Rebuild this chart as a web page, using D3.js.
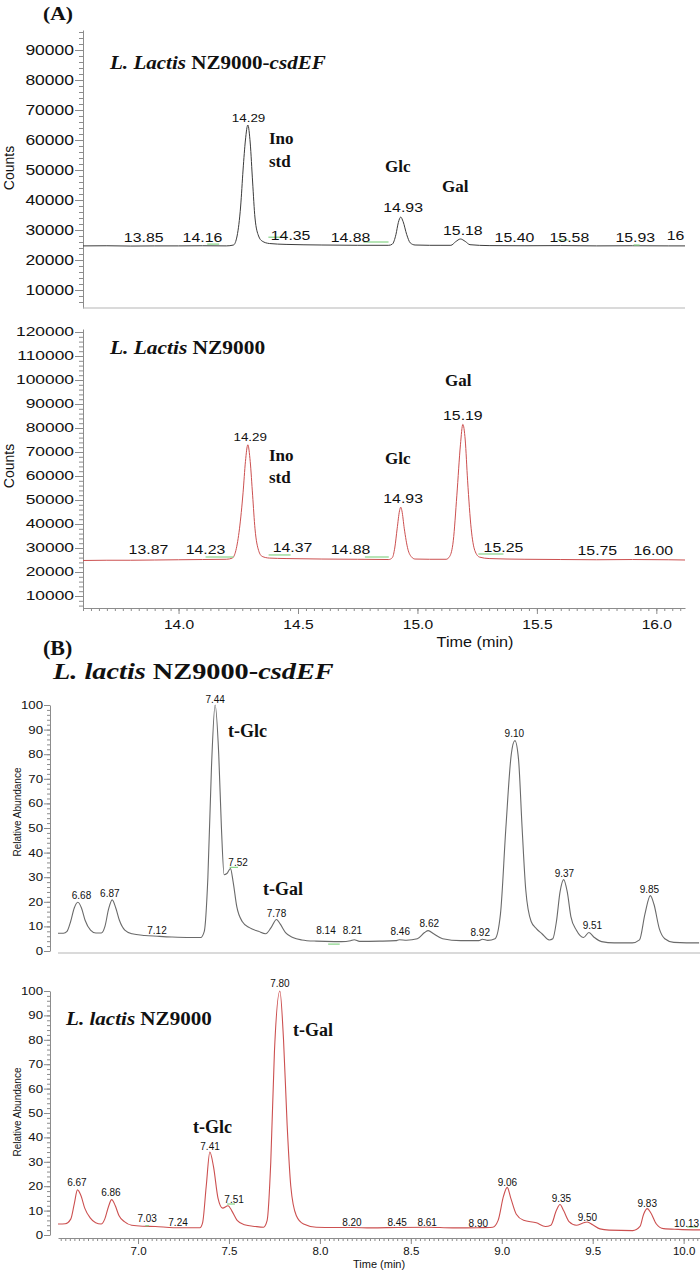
<!DOCTYPE html>
<html><head><meta charset="utf-8">
<script src="https://cdn.jsdelivr.net/npm/d3@7"></script>
<style>body{margin:0;background:#fff}</style>
</head><body><svg id="c" width="700" height="1271"></svg>
<script>
// ---------------- DATA ----------------
// Panel A (GC), top: L. Lactis NZ9000-csdEF  (time min, counts)
const aTopTime = [13.60,13.70,13.80,13.90,14.00,14.10,14.20,14.23,14.245,14.26,14.27,14.28,14.29,14.30,14.31,14.32,14.335,14.35,14.38,14.45,14.60,14.75,14.88,14.895,14.91,14.92,14.93,14.94,14.955,14.97,14.99,15.05,15.14,15.16,15.18,15.20,15.22,15.30,15.45,15.60,15.75,15.90,16.05,16.12];
const aTopCounts = [24700,24750,24650,24700,24700,24750,24700,25000,28000,38000,50000,60000,65000,59000,46000,34000,28000,26300,25500,25200,25000,24900,24900,25300,28500,32500,34300,32800,28500,25700,25000,24900,24900,26100,27000,26200,25100,24800,24750,24800,24700,24750,24700,24700];
const aTopLabelText  = ["13.85","14.16","14.29","14.35","14.88","14.93","15.18","15.40","15.58","15.93","16"];
const aTopLabelTime  = [13.854,14.10,14.293,14.469,14.72,14.94,15.19,15.406,15.636,15.912,16.08];
const aTopLabelLevel = [26000,26000,66000,26700,26000,36000,28300,26000,26000,26000,26700];
const aTopGreen = [[14.12,14.17,25300],[14.376,14.456,27600],[14.774,14.879,26000],[15.586,15.632,26700],[15.905,15.93,25000]];

// Panel A, bottom: L. Lactis NZ9000
const aBotTime = [13.60,13.70,13.80,13.90,14.00,14.10,14.20,14.225,14.24,14.255,14.27,14.28,14.29,14.30,14.31,14.32,14.335,14.35,14.38,14.45,14.60,14.75,14.88,14.895,14.905,14.915,14.925,14.93,14.935,14.945,14.96,14.975,14.99,15.05,15.12,15.135,15.15,15.165,15.18,15.19,15.20,15.21,15.225,15.24,15.26,15.30,15.45,15.60,15.75,15.90,16.05,16.12];
const aBotCounts = [24800,24900,24900,25000,25100,25200,25300,25800,29000,38000,53000,66000,73000,66000,52000,38000,29000,26500,25800,25600,25400,25300,25200,26000,30000,38000,45500,47000,45500,38000,29500,26300,25400,25300,25300,26500,33000,52000,73000,81500,75000,58000,38000,29000,26200,25600,25300,25200,25100,25200,25100,25000];
const aBotLabelText  = ["13.87","14.23","14.29","14.37","14.88","14.93","15.19","15.25","15.75","16.00"];
const aBotLabelTime  = [13.874,14.113,14.30,14.477,14.72,14.94,15.19,15.36,15.753,15.987];
const aBotLabelLevel = [27500,27500,74600,28300,27500,48750,83300,28300,27100,27100];
const aBotGreen = [[14.113,14.23,26250],[14.377,14.469,27100],[14.78,14.88,26250],[15.255,15.36,27500]];

const aYMajor = d3.range(10000, 90001, 10000);
const aBotYMajor = d3.range(10000, 120001, 10000);
const aXMajor = [14.0, 14.5, 15.0, 15.5, 16.0];

// Panel B (GC-MS), top: L. lactis NZ9000-csdEF (time min, relative abundance %)
const bTopTime = [6.57,6.60,6.62,6.64,6.66,6.68,6.70,6.72,6.75,6.78,
  6.81,6.83,6.85,6.87,6.89,6.91,6.94,6.98,7.05,7.12,
  7.20,7.30,7.36,7.38,7.40,7.42,7.44,7.46,7.475,7.49,
  7.505,7.525,7.54,7.56,7.59,7.63,7.68,7.72,7.75,7.78,
  7.80,7.83,7.87,7.92,8.00,8.10,8.14,8.19,8.21,8.24,
  8.35,8.44,8.46,8.50,8.56,8.60,8.62,8.65,8.70,8.80,
  8.90,8.92,8.95,8.99,9.02,9.05,9.08,9.10,9.12,9.14,
  9.16,9.19,9.22,9.25,9.29,9.31,9.33,9.35,9.37,9.39,
  9.41,9.44,9.48,9.51,9.54,9.58,9.65,9.75,9.79,9.82,
  9.85,9.87,9.90,9.93,9.98,10.05,10.12];
const bTopAbund = [7.2,7.2,8.0,12.0,17.5,19.8,17.5,12.5,8.5,7.3,
  7.3,10.0,17.0,20.8,17.5,12.5,8.5,7.0,6.3,6.0,
  5.7,5.5,5.5,8.0,30,75,100,80,50,31,
  31.5,33.5,28,18,12,9.5,8,7,9.5,12.8,
  11,7.5,5.5,4.5,4.0,3.8,3.8,4.2,4.6,3.9,
  4.0,4.2,4.6,4.4,5.0,7.5,8.3,7.0,5.0,4.2,
  4.2,4.8,4.3,5.0,15,50,80,85.5,78,50,
  25,12,9,7,4.5,5,12,24,29,24,
  14,8.5,5.5,7.5,5.5,3.8,3.3,3.3,4.5,15,
  22.5,19,9,5,3.5,3.3,3.3];
const bTopLabelText  = ["6.68","6.87","7.12","7.44","7.52","7.78","8.14","8.21","8.46","8.62","8.92","9.10","9.37","9.51","9.85"];
const bTopLabelTime  = [6.70,6.857,7.118,7.44,7.567,7.78,8.054,8.20,8.465,8.626,8.908,9.097,9.374,9.529,9.845];
const bTopLabelLevel = [21,22,7,100.8,34.5,13.8,7,7,6.5,9.8,6,87,30,9,23.6];
const bTopGreen = [[7.52,7.567,34],[8.066,8.13,2.8]];

// Panel B, bottom: L. lactis NZ9000 (times as drawn on the picture's axis)
const bBotTime = [6.56,6.60,6.63,6.65,6.667,6.687,6.707,6.737,6.767,6.797,
  6.817,6.837,6.855,6.875,6.895,6.925,6.965,7.025,7.095,7.195,
  7.29,7.34,7.355,7.375,7.395,7.415,7.44,7.465,7.495,7.515,
  7.545,7.585,7.645,7.69,7.71,7.73,7.75,7.78,7.80,7.82,
  7.84,7.87,7.91,7.98,8.08,8.18,8.28,8.43,8.59,8.73,
  8.87,8.95,8.98,9.01,9.03,9.05,9.08,9.12,9.19,9.24,
  9.27,9.30,9.32,9.34,9.37,9.41,9.45,9.47,9.50,9.54,
  9.59,9.72,9.76,9.78,9.80,9.82,9.85,9.89,9.97,10.09];
const bBotAbund = [4.5,4.6,6.5,13,18.5,16,11,7,5,4.5,
  6.5,11.5,14.5,12,8,5.5,4,3.6,3.5,3.0,
  3.0,3.0,5,20,34,28,15,11,12,10,
  6,4.2,3.5,3.2,6,30,75,100,80,45,
  20,8,4.5,3.2,3.1,3.1,2.9,3.1,3.2,2.9,
  3.0,3.2,6,16,19.5,15,8.5,6,5,3.5,
  4,10,12.5,10,5.5,4,5,5.3,4.2,2.5,
  2,1.8,3.5,8.5,10.8,9,4.5,2.6,2.3,2.1];
const bBotLabelText  = ["6.67","6.86","7.03","7.24","7.41","7.51","7.80","8.20","8.45","8.61","8.90","9.06","9.35","9.50","9.83","10.13"];
const bBotLabelTime  = [6.664,6.851,7.05,7.22,7.396,7.528,7.78,8.176,8.425,8.59,8.871,9.031,9.328,9.471,9.80,10.016];
const bBotLabelLevel = [20,16,5.3,3.7,34.8,13,101.6,3.7,3.7,3.7,3.3,20,13.5,5.7,11.5,3.3];
const bBotGreen = [[7.49,7.533,12.7],[7.04,7.06,3.8],[10.018,10.078,3.3]];

const bYMajor = d3.range(0, 101, 10);
const bXMajor = [7.0, 7.5, 8.0, 8.5, 9.0, 9.5, 10.0];

// ---------------- DRAWING ----------------
const svg = d3.select("#c");
const SANS = "'Liberation Sans', Arial, sans-serif";
const SERIF = "'Liberation Serif', 'Times New Roman', serif";
const AXIS = "#8c8c8c";
const GREEN = "#86d486";

function txt(g, x, y, s, o) {
  const t = g.append("text")
    .attr("transform", `translate(${x},${y}) scale(${o.sx || 1},1)` + (o.rot ? ` rotate(${o.rot})` : ""))
    .attr("font-family", o.family || SANS)
    .attr("font-size", o.size)
    .attr("font-weight", o.weight || "normal")
    .attr("text-anchor", o.anchor || "start")
    .attr("fill", o.fill || "#111");
  if (Array.isArray(s)) {
    s.forEach(p => t.append("tspan").attr("font-style", p[1] ? "italic" : "normal").text(p[0]));
  } else t.text(s);
  return t;
}

function drawChrom(c) {
  const g = svg.append("g");
  const x = d3.scaleLinear().domain(c.xDomain).range(c.xRange);
  const y = d3.scaleLinear().domain(c.yDomain).range(c.yRange);

  const ym = g.append("g").attr("transform", `translate(${c.yAxisX},0)`)
    .call(d3.axisLeft(y).tickValues(c.yMinor).tickSize(c.yMinorLen).tickSizeOuter(0).tickFormat(""));
  ym.select(".domain").remove();
  ym.selectAll(".tick line").attr("stroke", AXIS);
  const ya = g.append("g").attr("transform", `translate(${c.yAxisX},0)`)
    .call(d3.axisLeft(y).tickValues(c.yMajor).tickSize(c.yMajorLen).tickSizeOuter(0).tickFormat(d3.format("d")));
  ya.select(".domain").attr("stroke", AXIS);
  ya.selectAll(".tick line").attr("stroke", AXIS);
  ya.selectAll(".tick text").attr("font-family", SANS).attr("font-size", c.yFont).attr("fill", "#111")
    .attr("x", -(c.yMajorLen + 1) / c.ySx).attr("transform", `scale(${c.ySx},1)`);

  if (c.xMajor) {
    const xm = g.append("g").attr("transform", `translate(0,${c.xAxisY})`)
      .call(d3.axisBottom(x).tickValues(c.xMinor).tickSize(3).tickSizeOuter(0).tickFormat(""));
    xm.select(".domain").remove();
    xm.selectAll(".tick line").attr("stroke", AXIS);
    const xa = g.append("g").attr("transform", `translate(0,${c.xAxisY})`)
      .call(d3.axisBottom(x).tickValues(c.xMajor).tickSize(6).tickSizeOuter(0).tickFormat(d3.format(".1f")));
    xa.select(".domain").attr("stroke", AXIS);
    xa.selectAll(".tick line").attr("stroke", AXIS);
    xa.selectAll(".tick text").attr("font-family", SANS).attr("font-size", c.xFont).attr("fill", "#111")
      .attr("y", c.xLabelDy).attr("transform", `scale(${c.xSx},1)`);
  } else {
    g.append("line").attr("x1", x(c.xDomain[0])).attr("x2", x(c.xDomain[1]))
      .attr("y1", c.xAxisY).attr("y2", c.xAxisY).attr("stroke", "#b5b5b5").attr("stroke-width", 1.2);
  }

  const line = d3.line().x(d => x(d[0])).y(d => y(d[1])).curve(d3.curveMonotoneX);
  g.append("path").datum(d3.zip(c.time, c.val)).attr("d", line)
    .attr("fill", "none").attr("stroke", c.color).attr("stroke-width", c.width || 1);

  c.green.forEach(s => g.append("line").attr("x1", x(s[0])).attr("x2", x(s[1]))
    .attr("y1", y(s[2])).attr("y2", y(s[2])).attr("stroke", GREEN).attr("stroke-width", 1.2));

  c.labelText.forEach((s, i) => {
    const small = c.smallLabels && c.smallLabels.includes(s) && i === c.labelText.indexOf(s);
    txt(g, x(c.labelTime[i]), y(c.labelLevel[i]), s,
      { size: small ? c.labelFontSmall : c.labelFont, sx: c.labelSx, anchor: "middle" });
  });

  txt(g, c.yTitleX, c.yTitleY, c.yTitle, { size: c.yTitleFont, rot: -90, anchor: "middle", sx: 1 });
  return { g, x, y };
}

drawChrom({
  xDomain: [13.6, 16.12], xRange: [83, 685],
  yDomain: [4000, 96667], yRange: [308, 30],
  yAxisX: 83, yMajor: aYMajor, yMinor: d3.range(6000, 96001, 2000),
  yMajorLen: 8, yMinorLen: 4, yFont: 14, ySx: 1.25, xAxisY: 308,
  time: aTopTime, val: aTopCounts, color: "#3c3c3c",
  green: aTopGreen, labelText: aTopLabelText, labelTime: aTopLabelTime, labelLevel: aTopLabelLevel,
  labelFont: 13, labelFontSmall: 11, smallLabels: ["14.29"], labelSx: 1.22,
  yTitle: "Counts", yTitleX: 14, yTitleY: 168, yTitleFont: 14
});
drawChrom({
  xDomain: [13.6, 16.12], xRange: [83, 685],
  yDomain: [5000, 121250], yRange: [608, 329],
  yAxisX: 83, yMajor: aBotYMajor, yMinor: d3.range(6000, 121001, 2000),
  yMajorLen: 8, yMinorLen: 4, yFont: 12, ySx: 1.45, xAxisY: 608,
  xMajor: aXMajor, xMinor: d3.range(0, 76).map(i => 13.6 + i / 30), xFont: 13, xSx: 1.2, xLabelDy: 12,
  time: aBotTime, val: aBotCounts, color: "#cc5050",
  green: aBotGreen, labelText: aBotLabelText, labelTime: aBotLabelTime, labelLevel: aBotLabelLevel,
  labelFont: 13, labelFontSmall: 11, smallLabels: ["14.29"], labelSx: 1.22,
  yTitle: "Counts", yTitleX: 14, yTitleY: 466, yTitleFont: 14
});
drawChrom({
  xDomain: [6.57, 10.125], xRange: [58, 700],
  yDomain: [0, 100], yRange: [951, 705],
  yAxisX: 50, yMajor: bYMajor, yMinor: d3.range(0, 101, 2),
  yMajorLen: 6, yMinorLen: 3, yFont: 11, ySx: 1.2, xAxisY: 953,
  time: bTopTime, val: bTopAbund, color: "#6a6a6a", width: 1.1,
  green: bTopGreen, labelText: bTopLabelText, labelTime: bTopLabelTime, labelLevel: bTopLabelLevel,
  labelFont: 10, labelSx: 1,
  yTitle: "Relative Abundance", yTitleX: 21, yTitleY: 812, yTitleFont: 10
});
drawChrom({
  xDomain: [6.56, 10.09], xRange: [58, 700],
  yDomain: [0, 100], yRange: [1235, 991],
  yAxisX: 50, yMajor: bYMajor, yMinor: d3.range(0, 101, 2),
  yMajorLen: 6, yMinorLen: 3, yFont: 11, ySx: 1.2, xAxisY: 1238,
  xMajor: bXMajor, xMinor: d3.range(0, 141).map(i => 6.575 + i * 0.025), xFont: 11, xSx: 1.05, xLabelDy: 9,
  time: bBotTime, val: bBotAbund, color: "#cc5050", width: 1.1,
  green: bBotGreen, labelText: bBotLabelText, labelTime: bBotLabelTime, labelLevel: bBotLabelLevel,
  labelFont: 10, labelSx: 1,
  yTitle: "Relative Abundance", yTitleX: 21, yTitleY: 1112, yTitleFont: 10
});

const ann = svg.append("g");
const bold = { family: SERIF, weight: "bold" };
txt(ann, 43, 20, "(A)", { ...bold, size: 18, sx: 1.2 });
txt(ann, 110, 69, [["L. Lactis ", 1], ["NZ9000-", 0], ["csdEF", 1]], { ...bold, size: 18, sx: 1.17 });
txt(ann, 269, 144, "Ino", { ...bold, size: 17 });
txt(ann, 269, 167, "std", { ...bold, size: 17 });
txt(ann, 385, 172, "Glc", { ...bold, size: 17 });
txt(ann, 442, 192, "Gal", { ...bold, size: 17 });

txt(ann, 110, 354, [["L. Lactis ", 1], ["NZ9000", 0]], { ...bold, size: 18, sx: 1.19 });
txt(ann, 269, 461, "Ino", { ...bold, size: 17 });
txt(ann, 269, 483, "std", { ...bold, size: 17 });
txt(ann, 385, 464, "Glc", { ...bold, size: 17 });
txt(ann, 445, 386, "Gal", { ...bold, size: 17 });
txt(ann, 475, 647, "Time (min)", { size: 15, sx: 1.08, anchor: "middle" });

txt(ann, 43, 655, "(B)", { ...bold, size: 20, sx: 1.1 });
txt(ann, 53, 679, [["L. lactis ", 1], ["NZ9000-", 0], ["csdEF", 1]], { ...bold, size: 24, sx: 1.18 });
txt(ann, 228, 737, "t-Glc", { ...bold, size: 18 });
txt(ann, 263, 895, "t-Gal", { ...bold, size: 18 });

txt(ann, 66, 1025, [["L. lactis ", 1], ["NZ9000", 0]], { ...bold, size: 19, sx: 1.11 });
txt(ann, 193, 1133, "t-Glc", { ...bold, size: 18 });
txt(ann, 293, 1036, "t-Gal", { ...bold, size: 18 });
txt(ann, 353, 1268, "Time (min)", { size: 11 });
</script></body></html>
